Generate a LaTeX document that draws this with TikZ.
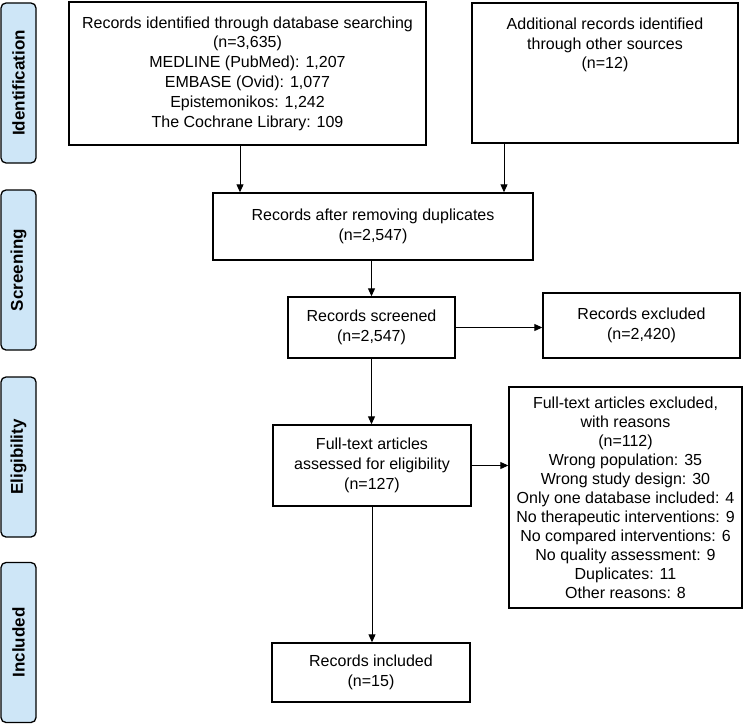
\documentclass[tikz,border=0pt]{standalone}
\usepackage{fontspec}
\setmainfont{Liberation Sans}
\usepackage{xcolor}
\usetikzlibrary{arrows.meta, positioning}

\definecolor{phaseblue}{RGB}{206,230,247}

\begin{document}
\begin{tikzpicture}[x=1pt, y=-1pt, >={Triangle[length=8pt,width=7pt]}, line width=1pt,
  phase node/.style={draw, rounded corners=5pt, fill=phaseblue, line width=1.3pt, rotate=90,
    minimum width=160pt, minimum height=35pt, inner sep=0pt, font=\fontsize{17}{20}\selectfont\bfseries},
  box node/.style={draw, line width=1.4pt, align=center, inner sep=0pt,
    font=\fontsize{16}{19.8}\selectfont}]
  \useasboundingbox (0,0) rectangle (743,725);

  % phases on the left
  \node[phase node] (ident) at (18.5,83) {Identification};
  \node[phase node] (screen) at (18.5,270) {Screening};
  \node[phase node] (elig) at (18.5,457) {Eligibility};
  \node[phase node] (incl) at (18.5,642.5) {Included};

  % flow boxes
  \node[box node, minimum width=357pt, minimum height=143pt] (db) at (247.5,73.5)
    {Records identified through database searching\\(n=3,635)\\MEDLINE (PubMed): 1,207\\EMBASE (Ovid): 1,077\\Epistemonikos: 1,242\\The Cochrane Library: 109};
  \node[box node, minimum width=266pt, minimum height=140pt] (other) at (605,73) {};
  \node[align=center, anchor=north, inner sep=0pt, font=\fontsize{16}{19.8}\selectfont] (othertext)
    at ([yshift=-15pt]other.north) {Additional records identified\\through other sources\\(n=12)};
  \node[box node, minimum width=320pt, minimum height=67pt] (dup) at (373,226.5)
    {Records after removing duplicates\\(n=2,547)};
  \node[box node, minimum width=167pt, minimum height=61pt] (screened) at (371.5,327.5)
    {Records screened\\(n=2,547)};
  \node[box node, minimum width=197pt, minimum height=65pt] (excluded) at (641.5,325.5)
    {Records excluded\\(n=2,420)};
  \node[box node, minimum width=198pt, minimum height=81pt] (fulltext) at (372,465.5)
    {Full-text articles\\assessed for eligibility\\(n=127)};
  \node[box node, minimum width=233pt, minimum height=221pt, font=\fontsize{16}{19}\selectfont] (reasons) at (625.5,497.5)
    {Full-text articles excluded,\\with reasons\\(n=112)\\Wrong population: 35\\Wrong study design: 30\\Only one database included: 4\\No therapeutic interventions: 9\\No compared interventions: 6\\No quality assessment: 9\\Duplicates: 11\\Other reasons: 8};
  \node[box node, minimum width=198pt, minimum height=59pt] (included) at (371,672.5)
    {Records included\\(n=15)};

  % arrows
  \draw[->] ([xshift=-7.5pt]db.south) -- ([xshift=-7.5pt]db.south |- dup.north);
  \draw[->] ([xshift=-101pt]other.south) -- ([xshift=-101pt]other.south |- dup.north);
  \draw[->] (dup.south -| screened.north) -- (screened.north);
  \draw[->] (screened.east) -- (screened.east -| excluded.west);
  \draw[->] (screened.south) -- (screened.south |- fulltext.north);
  \draw[->] (fulltext.east) -- (fulltext.east -| reasons.west);
  \draw[->] (fulltext.south) -- (fulltext.south |- included.north);
\end{tikzpicture}
\end{document}
